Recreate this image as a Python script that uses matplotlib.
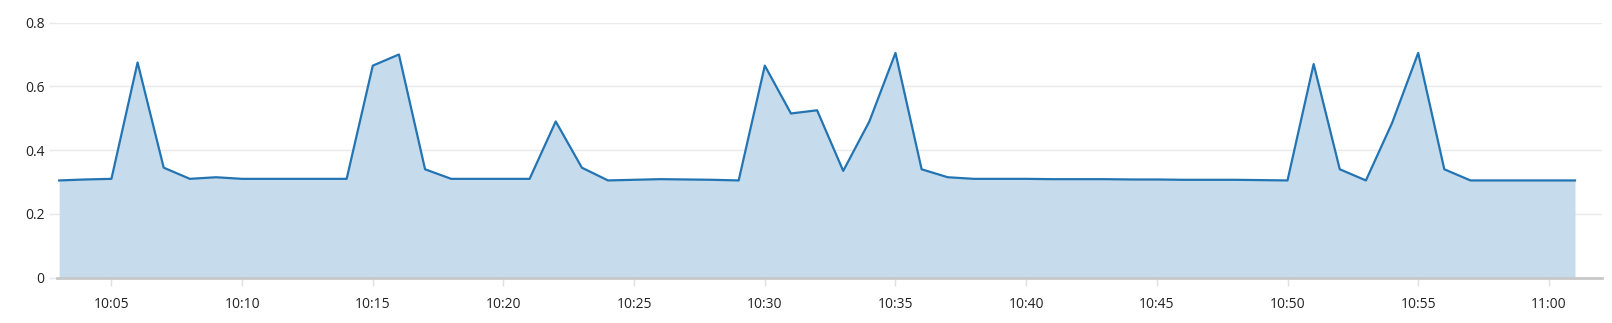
import datetime as dt
from matplotlib import pyplot as plt
import matplotlib.dates as mdates

# one sample per minute, 10:03 .. 11:01
start = "10:03"
values = [0.305, 0.308, 0.31, 0.675, 0.345, 0.31, 0.315, 0.31, 0.31, 0.31,
          0.31, 0.31, 0.665, 0.70, 0.34, 0.31, 0.31, 0.31, 0.31, 0.49,
          0.345, 0.305, 0.307, 0.309, 0.308, 0.307, 0.305, 0.665, 0.515, 0.525,
          0.335, 0.49, 0.705, 0.34, 0.315, 0.31, 0.31, 0.31, 0.309, 0.309,
          0.309, 0.308, 0.308, 0.307, 0.307, 0.307, 0.306, 0.305, 0.67,
          0.34, 0.305, 0.485, 0.705, 0.34, 0.305, 0.305, 0.305, 0.305, 0.305]
yticks = [0, 0.2, 0.4, 0.6, 0.8]
ytick_labels = ["0", "0.2", "0.4", "0.6", "0.8"]

t0 = dt.datetime.strptime("2024-01-01 " + start, "%Y-%m-%d %H:%M")
times = [t0 + dt.timedelta(minutes=i) for i in range(len(values))]

plt.rcParams['font.family'] = ['Open Sans', 'DejaVu Sans']

fig = plt.figure(figsize=(16.12, 3.23), dpi=100)
ax = fig.add_axes([57 / 1612, (323 - 277.7) / 323, (1602 - 57) / 1612, (277.7 - 22.6) / 323])

ax.fill_between(times, values, 0, color='#c6dcec', linewidth=0, zorder=2)
ax.plot(times, values, color='#2374b3', linewidth=1.6, zorder=3)

ax.set_ylim(0, 0.8)
ax.set_xlim(t0 - dt.timedelta(seconds=5), t0 + dt.timedelta(minutes=59, seconds=2))
ax.set_yticks(yticks)
ax.set_yticklabels(ytick_labels)
ax.xaxis.set_major_locator(mdates.MinuteLocator(byminute=range(0, 60, 5)))
ax.xaxis.set_major_formatter(mdates.DateFormatter('%H:%M'))

ax.grid(axis='y', color='#e9e9e9', linewidth=1, zorder=0)
ax.set_axisbelow(True)
for side in ['top', 'right', 'left']:
    ax.spines[side].set_visible(False)
ax.spines['bottom'].set_color('#c8c8c8')
ax.spines['bottom'].set_linewidth(2)
ax.spines['bottom'].set_zorder(4)

ax.tick_params(axis='x', length=6, width=1, color='#e0e0e0', labelsize=10, pad=8, labelcolor='#222222')
ax.tick_params(axis='y', length=6, width=1, color='#e9e9e9', labelsize=10, pad=3, labelcolor='#222222')

fig.savefig('out.png', dpi=100)
